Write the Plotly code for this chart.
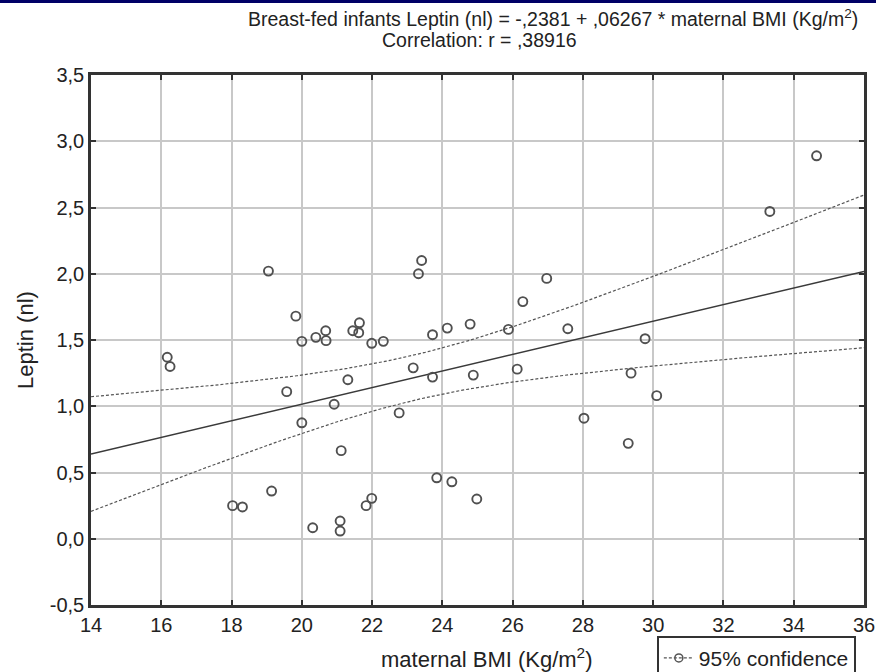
import numpy as np
import plotly.graph_objects as go

# ---- data ----
bmi = [16.17, 16.25, 18.03, 18.31, 19.05, 19.14, 19.57, 19.83, 20.00, 20.00,
       20.40, 20.31, 20.68, 20.69, 20.92, 21.12, 21.09, 21.09, 21.31, 21.45,
       21.62, 21.64, 21.83, 21.99, 21.99, 22.32, 22.77, 23.17, 23.32, 23.41,
       23.72, 23.72, 23.84, 24.14, 24.27, 24.79, 24.88, 24.98, 25.88, 26.13,
       26.29, 26.97, 27.57, 28.03, 29.29, 29.37, 29.77, 30.10, 33.32, 34.65]
leptin = [1.37, 1.30, 0.25, 0.24, 2.02, 0.36, 1.11, 1.68, 1.49, 0.875,
          1.52, 0.083, 1.57, 1.495, 1.015, 0.665, 0.134, 0.058, 1.20, 1.57,
          1.555, 1.63, 0.25, 0.305, 1.475, 1.49, 0.95, 1.29, 2.00, 2.10,
          1.54, 1.22, 0.46, 1.59, 0.43, 1.62, 1.235, 0.30, 1.58, 1.28,
          1.79, 1.965, 1.585, 0.91, 0.72, 1.25, 1.51, 1.08, 2.47, 2.89]

intercept = -0.2381
slope = 0.06267
x_ticks = [14, 16, 18, 20, 22, 24, 26, 28, 30, 32, 34, 36]
y_ticks = [-0.5, 0.0, 0.5, 1.0, 1.5, 2.0, 2.5, 3.0, 3.5]
y_ticktext = ["-0,5", "0,0", "0,5", "1,0", "1,5", "2,0", "2,5", "3,0", "3,5"]
title_line1 = "Breast-fed infants Leptin (nl) = -,2381 + ,06267 * maternal BMI (Kg/m<sup>2</sup>)"
title_line2 = "Correlation: r = ,38916"

# ---- regression line and 95% confidence band ----
x = np.array(bmi)
y = np.array(leptin)
n = len(x)
xs = np.linspace(14, 36, 200)
yfit = intercept + slope * xs
resid = y - (intercept + slope * x)
s = np.sqrt(np.sum(resid ** 2) / (n - 2))
sxx = np.sum((x - x.mean()) ** 2)
tval = 2.011
half = tval * s * np.sqrt(1.0 / n + (xs - x.mean()) ** 2 / sxx)

fig = go.Figure()
fig.add_trace(go.Scatter(x=xs, y=yfit, mode="lines",
                         line=dict(color="#3a3a3a", width=1.5), showlegend=False,
                         hoverinfo="skip"))
fig.add_trace(go.Scatter(x=xs, y=yfit + half, mode="lines",
                         line=dict(color="#555555", width=1.2, dash="3px,2px"),
                         showlegend=False, hoverinfo="skip"))
fig.add_trace(go.Scatter(x=xs, y=yfit - half, mode="lines",
                         line=dict(color="#555555", width=1.2, dash="3px,2px"),
                         showlegend=False, hoverinfo="skip"))
fig.add_trace(go.Scatter(x=bmi, y=leptin, mode="markers",
                         marker=dict(symbol="circle-open", size=9,
                                     color="#505050", line=dict(width=1.9)),
                         showlegend=False))
# legend entry
fig.add_trace(go.Scatter(x=[None], y=[None], mode="lines+markers",
                         name="95% confidence",
                         line=dict(color="#555555", width=1.2, dash="3px,2px"),
                         marker=dict(symbol="circle-open", size=8,
                                     color="#555555", line=dict(width=1.5))))

fam = "Liberation Sans"
txt = "#222222"
axis_common = dict(
    showgrid=True, gridcolor="#c8c8c8", gridwidth=1.5,
    showline=True, linecolor="#333333", linewidth=2.5, mirror="allticks",
    ticks="inside", ticklen=5, tickcolor="#333333", tickwidth=1.5,
    zeroline=False, tickfont=dict(family=fam, size=20, color=txt),
)

fig.update_layout(
    width=876, height=672,
    margin=dict(l=91, r=12, t=75, b=67, autoexpand=False),
    paper_bgcolor="white", plot_bgcolor="white",
    font=dict(family=fam, color=txt),
    xaxis=dict(range=[14, 36], tickvals=x_ticks, ticktext=[str(v) for v in x_ticks],
               **axis_common),
    yaxis=dict(range=[-0.5, 3.5], tickvals=y_ticks, ticktext=y_ticktext,
               **axis_common),
    showlegend=True,
    legend=dict(x=0.732, y=-0.058, xanchor="left", yanchor="top",
                bordercolor="#333333", borderwidth=2, bgcolor="white",
                font=dict(family=fam, size=21, color=txt), itemwidth=30),
    annotations=[
        dict(text=title_line1, xref="paper", yref="paper",
             x=0.995, y=1.1075, xanchor="right", yanchor="middle", showarrow=False,
             font=dict(family=fam, size=19.5, color=txt)),
        dict(text=title_line2, xref="paper", yref="paper",
             x=0.503, y=1.066, xanchor="center", yanchor="middle", showarrow=False,
             font=dict(family=fam, size=19.5, color=txt)),
        dict(text="maternal BMI (Kg/m<sup>2</sup>)", xref="paper", yref="paper",
             x=0.512, y=-0.1, xanchor="center", yanchor="middle", showarrow=False,
             font=dict(family=fam, size=22, color=txt)),
        dict(text="Leptin (nl)", xref="paper", yref="paper",
             x=-0.0854, y=0.5, xanchor="center", yanchor="middle", showarrow=False,
             textangle=-90, font=dict(family=fam, size=22, color=txt)),
    ],
    shapes=[dict(type="rect", xref="paper", yref="paper",
                 x0=-0.12, x1=1.02, y0=1.1358, y1=1.145,
                 fillcolor="#000066", line=dict(width=0), layer="above")],
)

fig.write_html("out.html")
